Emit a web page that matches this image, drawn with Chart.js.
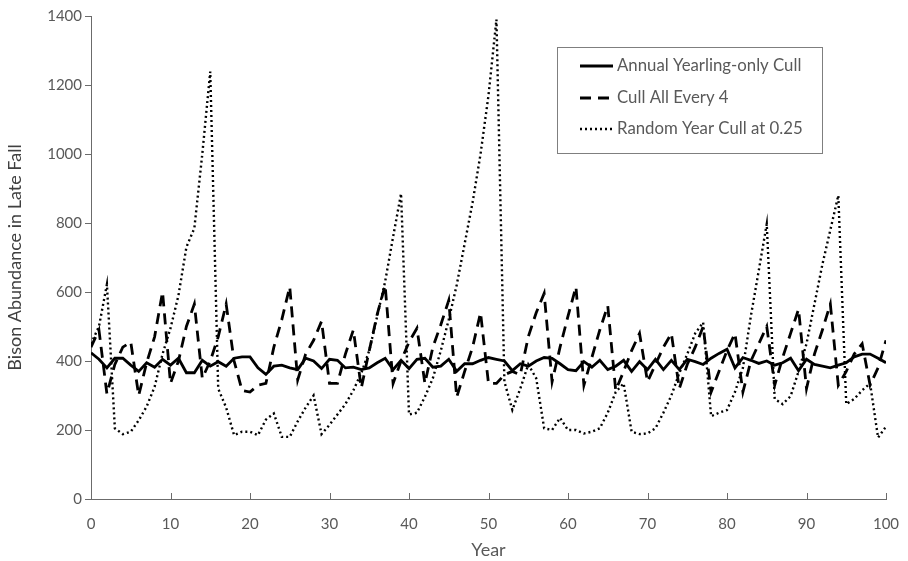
<!DOCTYPE html>
<html>
<head>
<meta charset="utf-8">
<script src="https://cdn.jsdelivr.net/npm/chart.js@4.4.1/dist/chart.umd.min.js"></script>
<style>
  html, body { margin: 0; padding: 0; background: #fff; }
  #chart { display: block; }
</style>
</head>
<body>
<canvas id="chart" width="908" height="561"></canvas>
<script>
const YEARS = [
  0, 1, 2, 3, 4, 5, 6, 7, 8, 9, 10, 11, 12, 13, 14, 15, 16, 17, 18, 19, 20,
  21, 22, 23, 24, 25, 26, 27, 28, 29, 30, 31, 32, 33, 34, 35, 36, 37, 38, 39, 40,
  41, 42, 43, 44, 45, 46, 47, 48, 49, 50, 51, 52, 53, 54, 55, 56, 57, 58, 59, 60,
  61, 62, 63, 64, 65, 66, 67, 68, 69, 70, 71, 72, 73, 74, 75, 76, 77, 78, 79, 80,
  81, 82, 83, 84, 85, 86, 87, 88, 89, 90, 91, 92, 93, 94, 95, 96, 97, 98, 99, 100
];

const ANNUAL_YEARLING = [
  424, 405, 380, 408, 408, 388, 370, 395, 382, 405, 388, 408, 366, 366, 402, 385, 398, 385, 408, 412, 412,
  380, 361, 385, 388, 380, 375, 408, 400, 378, 405, 402, 380, 382, 375, 380, 395, 408, 375, 402, 378,
  405, 408, 382, 385, 405, 370, 392, 392, 402, 410, 405, 400, 372, 392, 385, 400, 410, 408, 392, 375,
  372, 398, 382, 402, 375, 385, 402, 370, 398, 375, 405, 375, 402, 375, 405, 398, 390, 408, 422, 434,
  380, 410, 402, 393, 400, 388, 395, 408, 372, 405, 390, 385, 380, 388, 395, 412, 420, 420, 408, 395
];

const CULL_EVERY_4 = [
  440, 490, 305, 390, 440, 455, 300, 395, 470, 600, 335, 400, 500, 565, 350, 400, 470, 565, 400, 315, 310,
  330, 335, 440, 520, 615, 345, 420, 460, 515, 335, 335, 420, 490, 322, 430, 535, 620, 335, 400, 455,
  495, 335, 440, 505, 576, 295, 370, 440, 540, 335, 335, 360, 370, 360, 470, 540, 596, 340, 440, 530,
  615, 330, 410, 490, 560, 315, 370, 430, 480, 340, 390, 440, 480, 320, 390, 440, 500, 310, 370, 430,
  480, 310, 400, 450, 500, 330, 410, 480, 550, 320, 420, 490, 565, 330, 370, 420, 450, 330, 380, 460
];

const RANDOM_CULL = [
  450, 500, 622, 205, 188, 195, 228, 268, 325, 420, 495, 590, 730, 785, 1000, 1239, 320, 265, 185, 195, 195,
  185, 230, 248, 180, 180, 225, 265, 300, 188, 215, 245, 275, 315, 365, 430, 530, 630, 760, 885, 245,
  250, 296, 350, 430, 520, 620, 740, 860, 1000, 1170, 1390, 340, 258, 320, 390, 350, 205, 200, 235, 200,
  200, 190, 195, 205, 250, 310, 335, 195, 188, 190, 205, 250, 300, 365, 420, 480, 512, 240, 250, 258,
  310, 380, 530, 663, 797, 290, 275, 298, 370, 450, 565, 680, 780, 880, 275, 290, 315, 335, 178, 210
];

const SERIES_NAMES = ['Annual Yearling-only Cull', 'Cull All Every 4', 'Random Year Cull at 0.25'];
const Y_TICKS = [0, 200, 400, 600, 800, 1000, 1200, 1400];
const X_TICKS = [0, 10, 20, 30, 40, 50, 60, 70, 80, 90, 100];

const FONT = 'Lato, "Open Sans", sans-serif';
const AXIS_COLOR = '#6b6b6b';
const TEXT_COLOR = '#595959';

const toPoints = (values) => values.map((v, i) => ({ x: YEARS[i], y: v }));

const datasets = [
  { label: SERIES_NAMES[0], data: toPoints(ANNUAL_YEARLING), borderWidth: 2.8, borderDash: [] },
  { label: SERIES_NAMES[1], data: toPoints(CULL_EVERY_4), borderWidth: 2.8, borderDash: [11, 7] },
  { label: SERIES_NAMES[2], data: toPoints(RANDOM_CULL), borderWidth: 2.4, borderDash: [2, 3] }
].map((d) => ({
  ...d,
  borderColor: '#000000',
  backgroundColor: '#000000',
  pointRadius: 0,
  tension: 0,
  fill: false,
  borderCapStyle: 'butt',
  borderJoinStyle: 'miter'
}));

// x ticks point up into the plot, and the legend sits in a framed box
const decorations = {
  id: 'decorations',
  afterDraw(chart) {
    const { ctx, scales: { x, y } } = chart;
    ctx.save();
    ctx.strokeStyle = AXIS_COLOR;
    ctx.lineWidth = 1;
    X_TICKS.forEach((t) => {
      const px = Math.round(x.getPixelForValue(t)) + 0.5;
      ctx.beginPath();
      ctx.moveTo(px, y.bottom);
      ctx.lineTo(px, y.bottom - 6);
      ctx.stroke();
    });

    const box = { left: 557, top: 47, width: 265, height: 106 };
    ctx.fillStyle = '#ffffff';
    ctx.fillRect(box.left, box.top, box.width, box.height);
    ctx.strokeStyle = '#7f7f7f';
    ctx.strokeRect(box.left + 0.5, box.top + 0.5, box.width, box.height);

    const rows = [66, 98, 129];
    chart.data.datasets.forEach((ds, i) => {
      const ry = rows[i];
      ctx.strokeStyle = ds.borderColor;
      ctx.lineWidth = ds.borderWidth;
      ctx.setLineDash(ds.borderDash);
      ctx.beginPath();
      ctx.moveTo(580, ry);
      ctx.lineTo(613, ry);
      ctx.stroke();
      ctx.setLineDash([]);
      ctx.fillStyle = TEXT_COLOR;
      ctx.font = '16.8px ' + FONT;
      ctx.textBaseline = 'middle';
      ctx.textAlign = 'left';
      ctx.fillText(ds.label, 617, ry);
    });
    ctx.restore();
  }
};

new Chart(document.getElementById('chart'), {
  type: 'line',
  data: { datasets },
  plugins: [decorations],
  options: {
    responsive: false,
    animation: false,
    devicePixelRatio: 1,
    layout: { padding: { left: 0, top: 16, right: 22, bottom: 0 } },
    plugins: {
      legend: { display: false },
      tooltip: { enabled: false }
    },
    scales: {
      x: {
        type: 'linear',
        min: 0,
        max: 100,
        afterFit: (s) => { s.height = 62; s.paddingRight = 0; s.paddingLeft = 0; },
        afterBuildTicks: (s) => { s.ticks = X_TICKS.map((v) => ({ value: v })); },
        grid: { display: true, drawOnChartArea: false, drawTicks: false },
        border: { display: true, color: AXIS_COLOR, width: 1 },
        ticks: { color: TEXT_COLOR, font: { family: FONT, size: 15 }, padding: 16, maxRotation: 0 },
        title: { display: true, text: 'Year', color: TEXT_COLOR, font: { family: FONT, size: 18 }, padding: 0 }
      },
      y: {
        type: 'linear',
        min: 0,
        max: 1400,
        afterFit: (s) => { s.width = 91; },
        afterBuildTicks: (s) => { s.ticks = Y_TICKS.map((v) => ({ value: v })); },
        grid: { display: true, drawOnChartArea: false, drawTicks: true, tickLength: 6, color: AXIS_COLOR },
        border: { display: true, color: AXIS_COLOR, width: 1 },
        ticks: {
          color: TEXT_COLOR,
          font: { family: FONT, size: 15 },
          padding: 3,
          callback: (v) => String(v)
        },
        title: { display: true, text: 'Bison Abundance in Late Fall', color: '#404040', font: { family: FONT, size: 18 }, padding: { top: 4, bottom: 4 } }
      }
    }
  }
});
</script>
</body>
</html>
